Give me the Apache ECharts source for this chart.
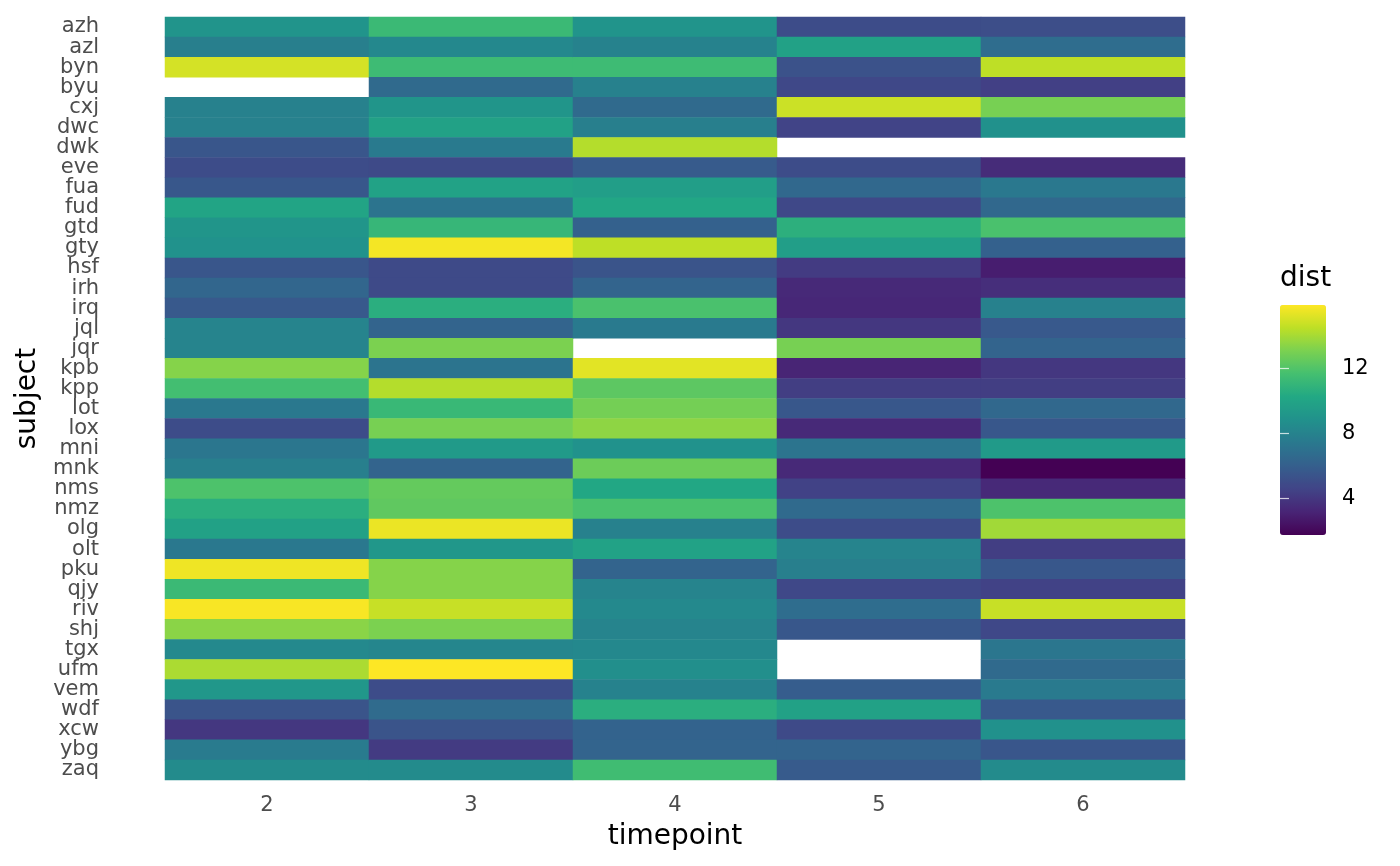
<!DOCTYPE html>
<html>
<head>
<meta charset="UTF-8">
<title>dist heatmap</title>
<script src="https://cdn.jsdelivr.net/npm/echarts@6/dist/echarts.min.js"></script>
<style>
  html, body { margin: 0; padding: 0; background: #fff; }
  #main { width: 1400px; height: 866px; }
</style>
</head>
<body>
<div id="main"></div>
<script>
// timepoints on x, subjects on y (top to bottom)
var timepoints = ['2', '3', '4', '5', '6'];
var subjects = ['azh', 'azl', 'byn', 'byu', 'cxj', 'dwc', 'dwk', 'eve', 'fua', 'fud',
    'gtd', 'gty', 'hsf', 'irh', 'irq', 'jql', 'jqr', 'kpb', 'kpp', 'lot',
    'lox', 'mni', 'mnk', 'nms', 'nmz', 'olg', 'olt', 'pku', 'qjy', 'riv',
    'shj', 'tgx', 'ufm', 'vem', 'wdf', 'xcw', 'ybg', 'zaq'];

// dist per subject, one array per timepoint (null = missing)
var dist_t2 = [9.0, 7.8, 15.0, null, 7.9, 7.9, 5.5, 5.0, 5.6, 10.0,
    9.1, 8.9, 5.5, 6.4, 5.7, 8.1, 8.1, 13.3, 11.6, 7.4,
    5.0, 7.3, 7.8, 11.9, 10.6, 9.8, 7.4, 15.6, 11.3, 15.8,
    13.4, 8.4, 14.1, 9.2, 5.4, 4.0, 7.6, 8.5];
var dist_t3 = [11.3, 8.3, 11.4, 6.6, 9.1, 9.8, 7.5, 4.9, 9.9, 7.2,
    11.1, 15.7, 4.9, 4.9, 10.6, 6.3, 13.1, 7.2, 14.3, 11.2,
    13.0, 9.4, 6.3, 12.5, 12.4, 15.5, 9.2, 13.3, 13.3, 14.7,
    13.1, 8.2, 15.9, 5.0, 6.7, 5.4, 4.2, 8.5];
var dist_t4 = [9.0, 8.0, 11.4, 7.9, 6.6, 7.8, 14.3, 5.8, 9.6, 10.1,
    6.1, 14.5, 5.4, 6.3, 11.8, 7.5, null, 15.3, 12.3, 12.9,
    13.5, 8.9, 12.7, 10.2, 11.8, 7.9, 9.9, 6.3, 8.1, 8.4,
    8.1, 8.3, 8.7, 8.0, 10.6, 6.2, 6.3, 11.5];
var dist_t5 = [5.0, 9.8, 5.3, 4.8, 14.8, 4.6, null, 5.0, 6.5, 4.8,
    10.7, 9.6, 4.2, 3.4, 3.3, 4.0, 13.0, 3.2, 4.3, 5.6,
    3.4, 7.2, 3.4, 4.5, 6.6, 5.0, 8.1, 7.8, 4.8, 6.8,
    5.6, null, null, 5.9, 9.8, 4.9, 6.3, 5.8];
var dist_t6 = [5.1, 6.8, 14.5, 4.4, 13.0, 8.8, null, 3.5, 7.4, 6.5,
    11.8, 6.1, 2.9, 3.6, 7.9, 5.7, 6.3, 4.0, 4.3, 6.5,
    5.6, 9.4, 1.75, 3.4, 11.9, 13.9, 4.3, 5.6, 4.5, 14.7,
    4.8, 7.3, 6.6, 7.5, 5.7, 8.8, 5.5, 8.5];

var distMin = 1.75;
var distMax = 15.9;
var legendTicks = [4, 8, 12];

var viridis = ['#440154', '#482475', '#414487', '#355f8d', '#2a788e', '#21918c',
    '#22a884', '#44bf70', '#7ad151', '#bddf26', '#fde725'];

var columns = [dist_t2, dist_t3, dist_t4, dist_t5, dist_t6];
var cells = [];
columns.forEach(function (col, xi) {
    col.forEach(function (v, yi) {
        if (v !== null) cells.push([xi, yi, v]);
    });
});

var font = 'DejaVu Sans';
var chart = echarts.init(document.getElementById('main'));
var option = {
    backgroundColor: '#fff',
    animation: false,
    textStyle: { fontFamily: font },
    title: {
        text: 'dist',
        left: 1280,
        top: 265,
        padding: 0,
        textStyle: { fontFamily: font, fontSize: 28, fontWeight: 'normal', color: '#000' }
    },
    grid: [
        { left: 165, right: 215, top: 17, bottom: 86 },
        { left: 1280, top: 305, width: 46, height: 230 }
    ],
    xAxis: [{
        type: 'category',
        data: timepoints,
        name: 'timepoint',
        nameLocation: 'middle',
        nameGap: 43,
        nameTextStyle: { fontSize: 28, color: '#000', fontFamily: font },
        axisLine: { show: false },
        axisTick: { show: false },
        splitLine: { show: false },
        axisLabel: { fontSize: 21, color: '#4d4d4d', margin: 15, fontFamily: font }
    }, {
        gridIndex: 1,
        type: 'value',
        show: false
    }],
    yAxis: [{
        type: 'category',
        data: subjects,
        inverse: true,
        name: 'subject',
        nameLocation: 'middle',
        nameGap: 123,
        nameTextStyle: { fontSize: 28, color: '#000', fontFamily: font },
        axisLine: { show: false },
        axisTick: { show: false },
        splitLine: { show: false },
        axisLabel: {
            interval: 0, fontSize: 21, color: '#4d4d4d', margin: 66,
            padding: [3, 0, 0, 0], fontFamily: font
        }
    }, {
        gridIndex: 1,
        type: 'value',
        min: distMin,
        max: distMax,
        position: 'right',
        z: 10,
        axisLine: { show: false },
        splitLine: { show: false },
        axisTick: {
            show: true, inside: true, length: 9, customValues: legendTicks,
            lineStyle: { color: '#ffffff', width: 1.2, opacity: 0.75 }
        },
        axisLabel: {
            customValues: legendTicks, fontSize: 21, color: '#000', margin: 16, fontFamily: font
        }
    }, {
        gridIndex: 1,
        type: 'value',
        min: distMin,
        max: distMax,
        position: 'left',
        z: 10,
        axisLine: { show: false },
        splitLine: { show: false },
        axisTick: {
            show: true, inside: true, length: 9, customValues: legendTicks,
            lineStyle: { color: '#ffffff', width: 1.2, opacity: 0.75 }
        },
        axisLabel: { show: false }
    }],
    visualMap: {
        type: 'continuous',
        min: distMin,
        max: distMax,
        dimension: 2,
        seriesIndex: 0,
        calculable: false,
        text: null,
        showLabel: false,
        left: 1280,
        top: 305,
        padding: 0,
        itemWidth: 46,
        itemHeight: 230,
        inRange: { color: viridis }
    },
    series: [{
        type: 'heatmap',
        data: cells,
        itemStyle: { borderWidth: 0 },
        emphasis: { disabled: true }
    }]
};
chart.setOption(option);
</script>
</body>
</html>
